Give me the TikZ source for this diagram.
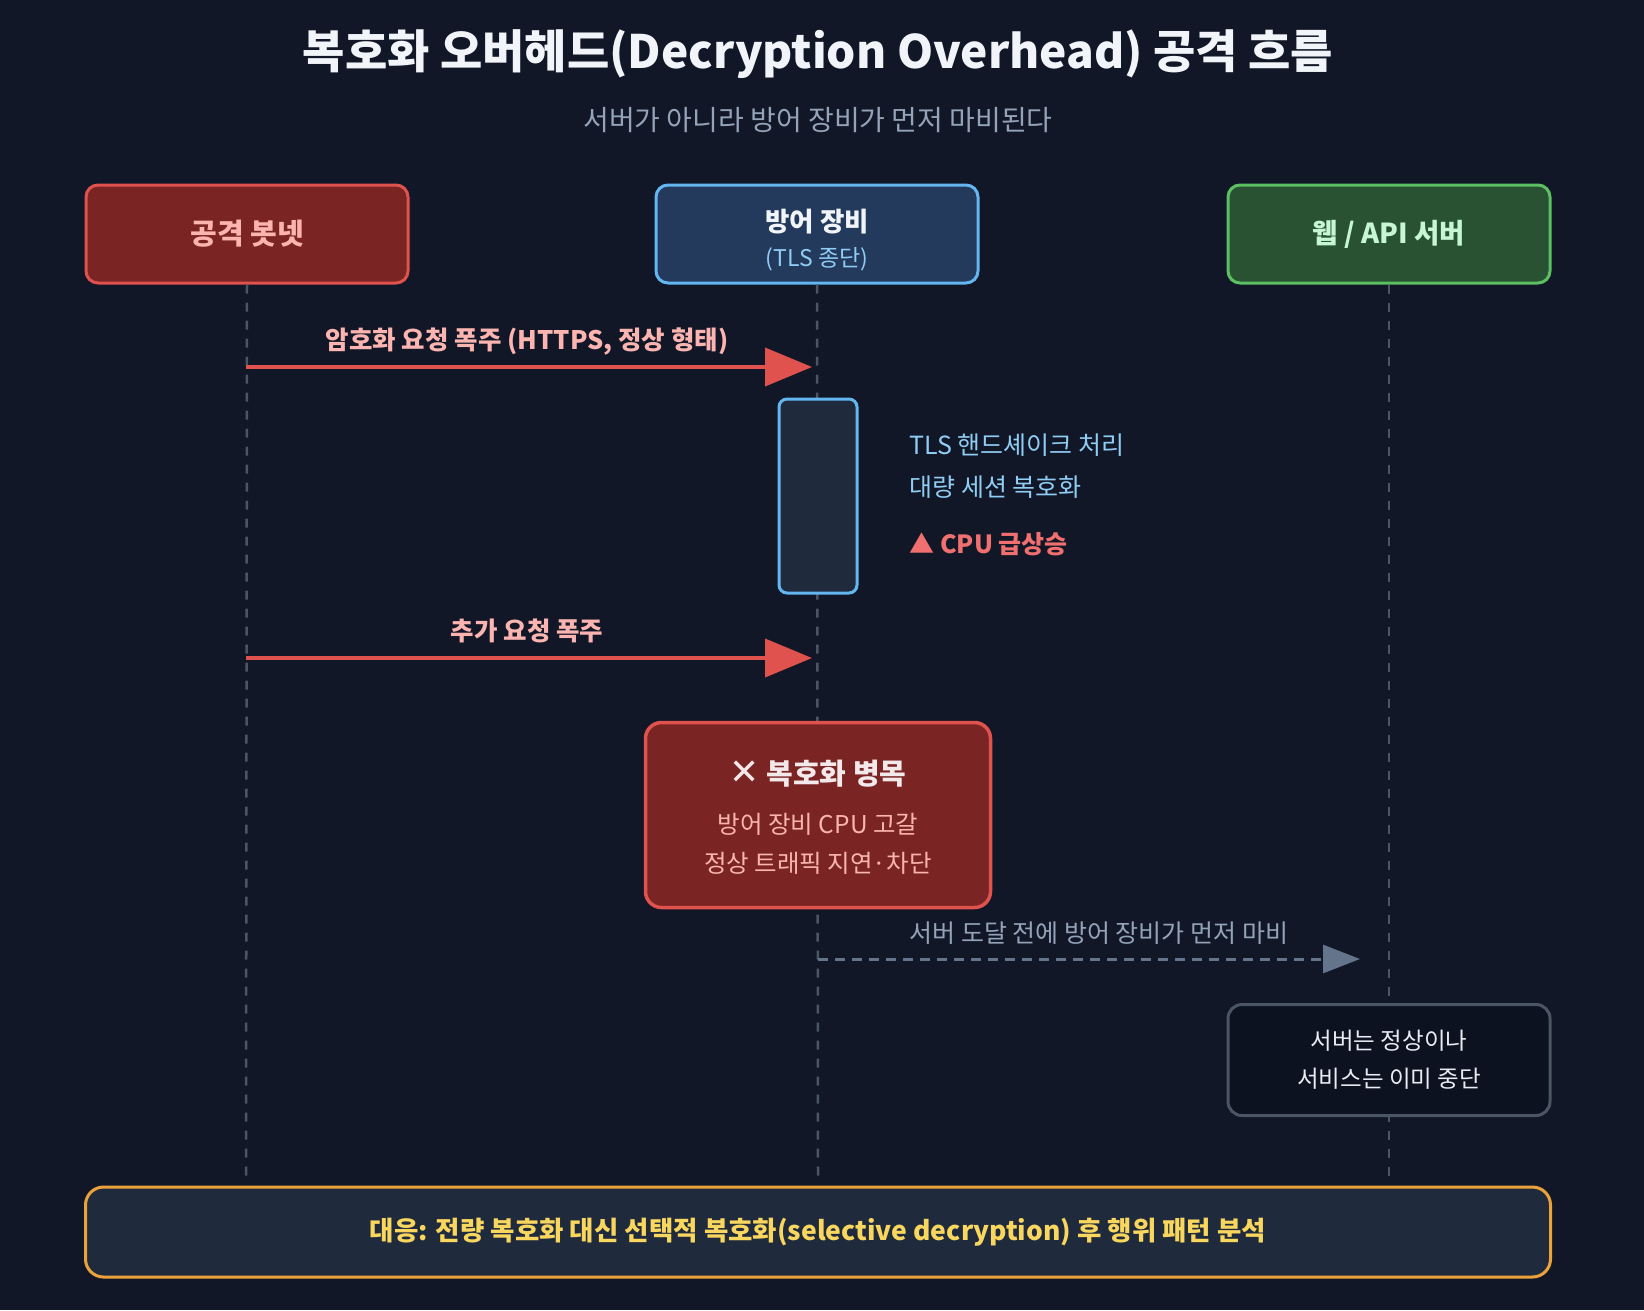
\documentclass[tikz,border=0pt]{standalone}
\usepackage{fontspec}
\setmainfont{Noto Sans CJK KR}
\newfontfamily\symfont{DejaVu Sans}
\usetikzlibrary{arrows.meta}
\definecolor{bg}{HTML}{111727}
\definecolor{lifec}{HTML}{4B5563}
\definecolor{redfill}{HTML}{7A2523}
\definecolor{redline}{HTML}{E0524D}
\definecolor{redtext}{HTML}{FBB4B0}
\definecolor{bluefill}{HTML}{243A5C}
\definecolor{blueline}{HTML}{63B6F0}
\definecolor{bluetext}{HTML}{90CDF4}
\definecolor{greenfill}{HTML}{285232}
\definecolor{greenline}{HTML}{5CC063}
\definecolor{greentext}{HTML}{C6F6D5}
\definecolor{panel}{HTML}{1F2A3C}
\definecolor{notefill}{HTML}{0C1220}
\definecolor{notebord}{HTML}{4B5563}
\definecolor{graytext}{HTML}{94A3B8}
\definecolor{grayarrow}{HTML}{64748B}
\definecolor{orangeline}{HTML}{EBA23A}
\definecolor{yellowtext}{HTML}{F9D65E}
\definecolor{titlec}{HTML}{F1F5F9}
\definecolor{cputext}{HTML}{F07070}
\tikzset{
  actor/.style={draw, line width=3pt, rounded corners=12pt, minimum width=322pt, minimum height=98pt, inner sep=0pt, align=center},
  lifeline/.style={draw=lifec, line width=2.5pt, dash pattern=on 9pt off 9pt},
  msg/.style={draw=redline, line width=4pt, -{Triangle[length=47pt,width=38pt]}},
  msglabel/.style={text=redtext, font=\bfseries\fontsize{25.5}{30}\selectfont},
}
\begin{document}
\begin{tikzpicture}[x=1pt,y=-1pt]
\fill[bg] (0,0) rectangle (1644,1310);
\useasboundingbox (0,0) rectangle (1644,1310);

\node[text=titlec, font=\bfseries\fontsize{46}{52}\selectfont] (title) at (818,54) {복호화 오버헤드(Decryption Overhead) 공격 흐름};
\node[text=graytext, font=\fontsize{28}{32}\selectfont] (sub) at (818,120) {서버가 아니라 방어 장비가 먼저 마비된다};

% lifelines
\coordinate (l1e) at (246,1176);
\coordinate (l2e) at (818,1176);
\coordinate (l3e) at (1389,1176);
\node[actor, fill=redfill, draw=redline, text=redtext, font=\bfseries\fontsize{29}{33}\selectfont] (bot) at (247,234) {공격 봇넷};
\node[actor, fill=bluefill, draw=blueline] (def) at (817,234) {};
\node[actor, fill=greenfill, draw=greenline, text=greentext, font=\bfseries\fontsize{27.5}{32}\selectfont] (srv) at (1389,234) {웹 / API 서버};
\node[text=titlec, font=\bfseries\fontsize{26.5}{30}\selectfont] (deft) at (817,222) {방어 장비};
\node[text=bluetext, font=\fontsize{23}{27}\selectfont] (defs) at (817,259) {(TLS 종단)};

\draw[lifeline] (bot.south) -- (l1e);
\draw[lifeline] (def.south) -- (l2e);
\draw[lifeline] (srv.south) -- (l3e);

% message 1
\coordinate (m1a) at (246,367);
\coordinate (m1b) at (812,367);
\draw[msg] (m1a) -- (m1b);
\node[msglabel] (m1l) at (527,342) {암호화 요청 폭주 (HTTPS, 정상 형태)};

% activation
\node[draw=blueline, fill=panel, line width=3pt, rounded corners=8pt, minimum width=78pt, minimum height=194pt, inner sep=0pt] (act) at (818,496) {};
\node[anchor=west, text=bluetext, font=\fontsize{25}{29}\selectfont] (t1) at (906,445) {TLS 핸드셰이크 처리};
\node[anchor=west, text=bluetext, font=\fontsize{25}{29}\selectfont] (t2) at (906,487) {대량 세션 복호화};
\node[anchor=west, text=cputext, font=\bfseries\fontsize{25}{29}\selectfont] (t3) at (906,544) {▲ CPU 급상승};

% message 2
\coordinate (m2a) at (246,658);
\coordinate (m2b) at (812,658);
\draw[msg] (m2a) -- (m2b);
\node[msglabel] (m2l) at (527,631) {추가 요청 폭주};

% bottleneck
\node[draw=redline, fill=redfill, line width=3.5pt, rounded corners=16pt, minimum width=345pt, minimum height=185pt, inner sep=0pt] (bn) at (818,815) {};
\node[text=titlec!80!redtext, font=\bfseries\fontsize{29}{33}\selectfont] (bnt) at (818,774) {{\symfont\mdseries\fontsize{36}{36}\selectfont ✕} 복호화 병목};
\node[text=redtext, font=\fontsize{24.5}{28}\selectfont] (bn1) at (818,824) {방어 장비 CPU 고갈};
\node[text=redtext, font=\fontsize{24.5}{28}\selectfont] (bn2) at (818,863) {정상 트래픽 지연·차단};

% dashed
\coordinate (d1a) at (818,959);
\coordinate (d1b) at (1360,959);
\draw[draw=grayarrow, line width=3pt, dash pattern=on 10pt off 7pt, -{Triangle[length=37pt,width=28pt]}] (d1a) -- (d1b);
\node[anchor=west, text=graytext, font=\fontsize{25}{29}\selectfont] (dl) at (906,933) {서버 도달 전에 방어 장비가 먼저 마비};

% note
\node[draw=notebord, fill=notefill, line width=3pt, rounded corners=14pt, minimum width=322pt, minimum height=111pt, inner sep=0pt, align=center, text=titlec!90!graytext, font=\fontsize{23.5}{38}\selectfont] (note) at (1389,1060) {서버는 정상이나\\서비스는 이미 중단};

% bottom
\node[draw=orangeline, fill=panel, line width=3pt, rounded corners=18pt, minimum width=1465pt, minimum height=90pt, inner sep=0pt, text=yellowtext, font=\bfseries\fontsize{26.5}{30}\selectfont] (foot) at (818,1232) {대응: 전량 복호화 대신 선택적 복호화(selective decryption) 후 행위 패턴 분석};
\end{tikzpicture}
\end{document}
